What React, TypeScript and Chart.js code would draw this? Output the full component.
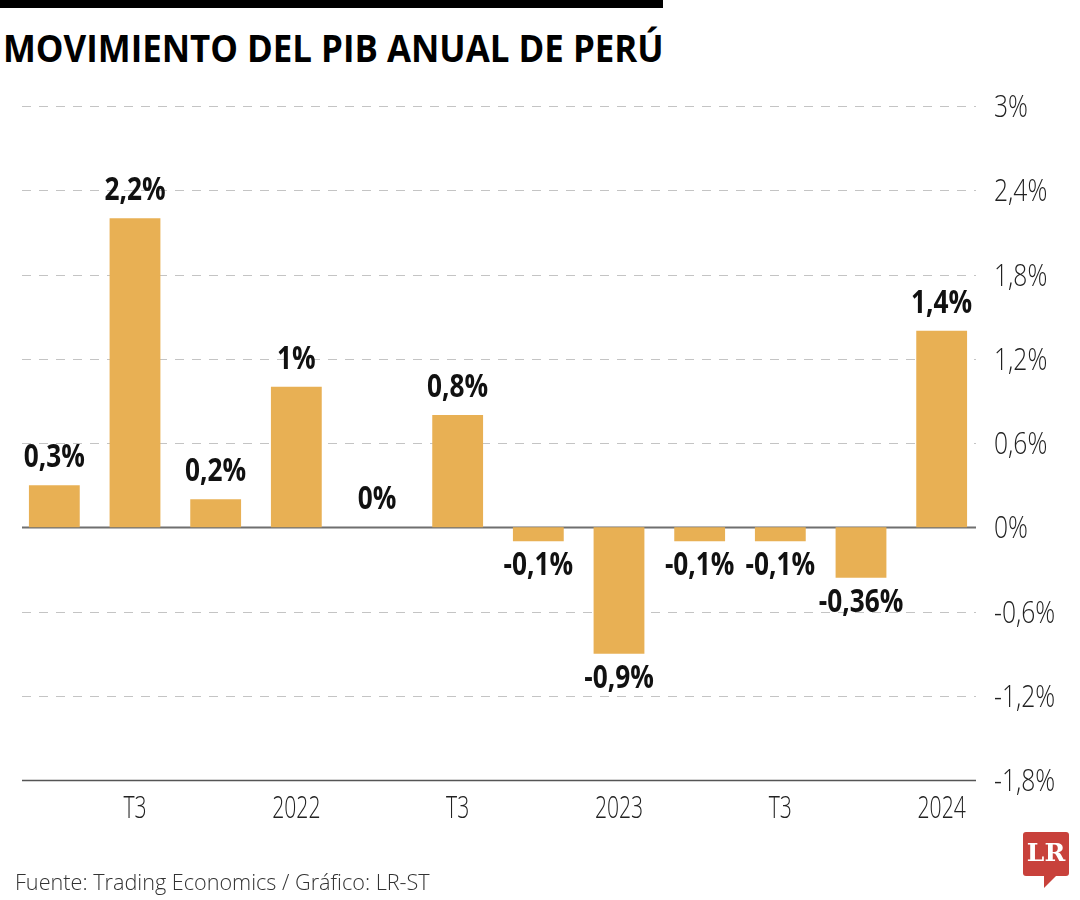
import React, { useEffect, useRef } from "react";
import { Chart, registerables } from "chart.js";

Chart.register(...registerables);

const categories = [
  "T2 2021", "T3 2021", "T4 2021", "T1 2022", "T2 2022", "T3 2022",
  "T4 2022", "T1 2023", "T2 2023", "T3 2023", "T4 2023", "T1 2024",
];
const tickLabels = ["", "T3", "", "2022", "", "T3", "", "2023", "", "T3", "", "2024"];
const gdpValues = [0.3, 2.2, 0.2, 1, 0, 0.8, -0.1, -0.9, -0.1, -0.1, -0.36, 1.4];
const yTicks = [3, 2.4, 1.8, 1.2, 0.6, 0, -0.6, -1.2, -1.8];

const FONT = '"Open Sans", "Noto Sans", sans-serif';

const fmt = (v: number) => String(v).replace(".", ",") + "%";

function drawNarrow(ctx: any, text: string, x: number, y: number, align: "left" | "center", sx: number) {
  ctx.save();
  ctx.translate(x, y);
  ctx.scale(sx, 1);
  ctx.textAlign = align;
  ctx.textBaseline = "alphabetic";
  ctx.fillText(text, 0, 0);
  ctx.restore();
}

const gridPlugin = {
  id: "customGrid",
  beforeDatasetsDraw(chart: any) {
    const { ctx, chartArea, scales } = chart;
    const y = scales.y;
    ctx.save();
    yTicks.forEach((t) => {
      const py = Math.round(y.getPixelForValue(t)) + 0.5;
      ctx.beginPath();
      if (t === 0) {
        ctx.setLineDash([]);
        ctx.strokeStyle = "#6f6f6f";
        ctx.lineWidth = 2;
      } else if (t === -1.8) {
        ctx.setLineDash([]);
        ctx.strokeStyle = "#555555";
        ctx.lineWidth = 1.5;
      } else {
        ctx.setLineDash([9, 8]);
        ctx.strokeStyle = "#c4c4c4";
        ctx.lineWidth = 1.2;
      }
      ctx.moveTo(chartArea.left + 8, py);
      ctx.lineTo(chartArea.right - 6, py);
      ctx.stroke();
    });
    ctx.restore();
  },
};

const textPlugin = {
  id: "narrowText",
  afterDatasetsDraw(chart: any) {
    const { ctx, scales, chartArea } = chart;
    const meta = chart.getDatasetMeta(0);
    ctx.save();
    ctx.font = `bold 32px ${FONT}`;
    ctx.fillStyle = "#111111";
    meta.data.forEach((bar: any, i: number) => {
      const v = gdpValues[i];
      const text = fmt(v);
      if (v >= 0) drawNarrow(ctx, text, bar.x, bar.y - 18, "center", 0.82);
      else drawNarrow(ctx, text, bar.x, bar.y + 34, "center", 0.82);
    });
    ctx.font = `300 32px ${FONT}`;
    ctx.fillStyle = "#222222";
    yTicks.forEach((t) => {
      const py = scales.y.getPixelForValue(t);
      drawNarrow(ctx, fmt(t), chartArea.right + 12, py + 11, "left", 0.77);
    });
    tickLabels.forEach((lab, i) => {
      if (!lab) return;
      const px = scales.x.getPixelForTick(i);
      drawNarrow(ctx, lab, px, chartArea.bottom + 38, "center", 0.66);
    });
    ctx.restore();
  },
};

export default function App() {
  const ref = useRef<HTMLCanvasElement | null>(null);

  useEffect(() => {
    if (!ref.current) return;
    const chart = new Chart(ref.current, {
      type: "bar",
      data: {
        labels: categories,
        datasets: [
          {
            data: gdpValues,
            backgroundColor: "#e8b054",
            barPercentage: 0.63,
            categoryPercentage: 1,
          },
        ],
      },
      options: {
        animation: false,
        responsive: false,
        maintainAspectRatio: false,
        layout: { padding: { left: 14, right: 0, top: 106, bottom: 0 } },
        plugins: { legend: { display: false }, tooltip: { enabled: false } },
        scales: {
          x: {
            grid: { display: false },
            border: { display: false },
            ticks: { display: false },
            afterFit: (s: any) => {
              s.height = 120;
            },
          },
          y: {
            position: "right",
            min: -1.8,
            max: 3,
            grid: { display: false },
            border: { display: false },
            ticks: { display: false },
            afterBuildTicks: (s: any) => {
              s.ticks = yTicks.map((v) => ({ value: v }));
            },
            afterFit: (s: any) => {
              s.width = 98;
            },
          },
        },
      },
      plugins: [gridPlugin, textPlugin],
    });
    return () => chart.destroy();
  }, []);

  return (
    <div style={{ position: "absolute", left: 0, top: 0, width: 1080, height: 900, background: "#fff", overflow: "hidden" }}>
      <div style={{ position: "absolute", left: 0, top: 0, width: 663, height: 8, background: "#000" }} />
      <div
        style={{
          position: "absolute",
          left: 3,
          top: 24,
          fontFamily: FONT,
          fontWeight: 700,
          fontSize: 37,
          lineHeight: "48px",
          color: "#000",
          whiteSpace: "nowrap",
          transform: "scaleX(0.942)",
          transformOrigin: "0 0",
        }}
      >
        MOVIMIENTO DEL PIB ANUAL DE PERÚ
      </div>
      <canvas ref={ref} width={1080} height={900} style={{ position: "absolute", left: 0, top: 0, width: 1080, height: 900 }} />
      <div
        style={{
          position: "absolute",
          left: 15,
          top: 866,
          fontFamily: FONT,
          fontWeight: 300,
          fontSize: 22,
          lineHeight: "30px",
          color: "#333",
          whiteSpace: "nowrap",
          transform: "scaleX(0.983)",
          transformOrigin: "0 0",
        }}
      >
        Fuente: Trading Economics / Gráfico: LR-ST
      </div>
      <div style={{ position: "absolute", left: 1023, top: 832, width: 46, height: 44, background: "#c8413b", borderRadius: 3 }}>
        <div
          style={{
            position: "absolute",
            left: 0,
            top: 5,
            width: 46,
            textAlign: "center",
            color: "#fff",
            fontFamily: '"DejaVu Serif", "Liberation Serif", serif',
            fontWeight: 700,
            fontSize: 25,
            lineHeight: "32px",
          }}
        >
          LR
        </div>
      </div>
      <div
        style={{
          position: "absolute",
          left: 1044,
          top: 876,
          width: 0,
          height: 0,
          borderRight: "12px solid transparent",
          borderTop: "12px solid #c8413b",
        }}
      />
    </div>
  );
}
